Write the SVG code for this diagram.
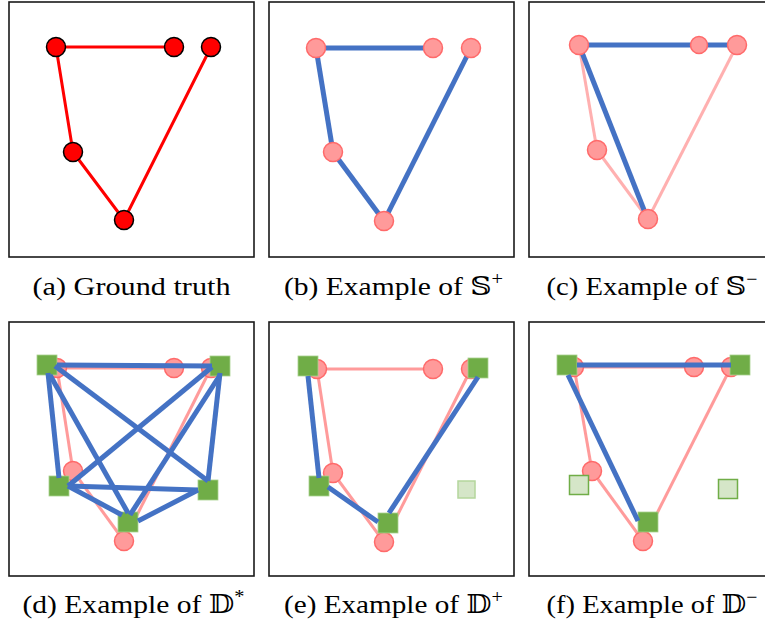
<svg xmlns="http://www.w3.org/2000/svg" width="765" height="626" viewBox="0 0 765 626">
<style>
.frame{fill:#fff;stroke:#1a1a1a;stroke-width:1.6}
.gt-edge{stroke:#ff0000;stroke-width:3;fill:none;stroke-linecap:round}
.gt-node{fill:#ff0000;stroke:#000;stroke-width:1.5}
.blue{stroke:#4472c4;stroke-width:5;fill:none}
.pink-c{stroke:#ffb0b0;stroke-width:3;fill:none}
.pink{stroke:#ff9b9b;stroke-width:3;fill:none}
.pnode{fill:#ff9a9a;stroke:#ff6a6a;stroke-width:1.5}
.sq{fill:#70ad47;stroke:#a9d18e;stroke-width:0.8}
.fsq-e{fill:#d5e6c8;stroke:#b4d69c;stroke-width:1.5}
.fsq-f{fill:#d5e6c8;stroke:#70ad47;stroke-width:1.5}
.cap{font-family:"Liberation Serif","DejaVu Serif","DejaVu Sans",serif;font-size:26px;fill:#000;text-anchor:middle}
.sup{font-size:18px}
</style>

<!-- frames -->
<g id="frames">
<rect class="frame" x="9" y="2" width="245" height="255"/>
<rect class="frame" x="269" y="2" width="245" height="255"/>
<rect class="frame" x="529" y="2" width="250" height="255"/>
<rect class="frame" x="9" y="322" width="245" height="254"/>
<rect class="frame" x="269" y="322" width="245" height="254"/>
<rect class="frame" x="529" y="322" width="250" height="254"/>
</g>

<!-- (a) ground truth -->
<g id="connectors-a">
<line class="gt-edge" x1="56" y1="47" x2="174" y2="47"/>
<line class="gt-edge" x1="56" y1="47" x2="73" y2="152"/>
<line class="gt-edge" x1="73" y1="152" x2="124" y2="220"/>
<line class="gt-edge" x1="124" y1="220" x2="211" y2="47"/>
</g>
<g id="a-n1"><circle class="gt-node" cx="56" cy="47" r="9.5"/></g>
<g id="a-n2"><circle class="gt-node" cx="174" cy="47" r="9.5"/></g>
<g id="a-n3"><circle class="gt-node" cx="211" cy="47" r="9.5"/></g>
<g id="a-n4"><circle class="gt-node" cx="73" cy="152" r="9.5"/></g>
<g id="a-n5"><circle class="gt-node" cx="124" cy="220" r="9.5"/></g>

<!-- (b) -->
<g id="connectors-b">
<line class="blue" x1="316" y1="48" x2="433" y2="48"/>
<line class="blue" x1="316" y1="48" x2="333" y2="152"/>
<line class="blue" x1="333" y1="152" x2="384" y2="221"/>
<line class="blue" x1="384" y1="221" x2="471" y2="48"/>
</g>
<g id="b-n1"><circle class="pnode" cx="316" cy="48" r="9.5"/></g>
<g id="b-n2"><circle class="pnode" cx="433" cy="48" r="9.5"/></g>
<g id="b-n3"><circle class="pnode" cx="471" cy="48" r="9.5"/></g>
<g id="b-n4"><circle class="pnode" cx="333" cy="152" r="9.5"/></g>
<g id="b-n5"><circle class="pnode" cx="384" cy="221" r="9.5"/></g>

<!-- (c) -->
<g id="connectors-c">
<line class="pink-c" x1="579" y1="45" x2="699" y2="45"/>
<line class="pink-c" x1="579" y1="45" x2="597" y2="150"/>
<line class="pink-c" x1="597" y1="150" x2="648" y2="219"/>
<line class="pink-c" x1="648" y1="219" x2="737" y2="45"/>
<line class="blue" x1="579" y1="45" x2="737" y2="45"/>
<line class="blue" x1="579" y1="45" x2="646" y2="215"/>
</g>
<g id="c-n1"><circle class="pnode" cx="579" cy="45" r="9.5"/></g>
<g id="c-n2"><circle class="pnode" cx="699" cy="45" r="8.5"/></g>
<g id="c-n3"><circle class="pnode" cx="737" cy="45" r="9.5"/></g>
<g id="c-n4"><circle class="pnode" cx="597" cy="150" r="9.5"/></g>
<g id="c-n5"><circle class="pnode" cx="648" cy="219" r="9.5"/></g>

<!-- (d) -->
<g id="connectors-d-truth">
<line class="pink" x1="57" y1="368" x2="174" y2="368"/>
<line class="pink" x1="57" y1="368" x2="73" y2="471"/>
<line class="pink" x1="73" y1="471" x2="124" y2="541"/>
<line class="pink" x1="124" y1="541" x2="211" y2="368"/>
</g>
<g id="d-n1"><circle class="pnode" cx="57" cy="368" r="9.5"/></g>
<g id="d-n2"><circle class="pnode" cx="174" cy="368" r="9.5"/></g>
<g id="d-n3"><circle class="pnode" cx="211" cy="368" r="9.5"/></g>
<g id="d-n4"><circle class="pnode" cx="73" cy="471" r="9.5"/></g>
<g id="d-n5"><circle class="pnode" cx="124" cy="541" r="9.5"/></g>
<g id="d-s1"><rect class="sq" x="37" y="355" width="20" height="20"/></g>
<g id="d-s2"><rect class="sq" x="210" y="356" width="20" height="20"/></g>
<g id="d-s3"><rect class="sq" x="49" y="476" width="20" height="20"/></g>
<g id="d-s4"><rect class="sq" x="198" y="480" width="20" height="20"/></g>
<g id="d-s5"><rect class="sq" x="118" y="512" width="20" height="20"/></g>
<g id="connectors-d">
<line class="blue" x1="57" y1="365" x2="212" y2="366"/>
<line class="blue" x1="48" y1="373" x2="59" y2="478"/>
<line class="blue" x1="55" y1="366" x2="208" y2="481"/>
<line class="blue" x1="50" y1="375" x2="128" y2="513"/>
<line class="blue" x1="212" y1="367" x2="68" y2="486"/>
<line class="blue" x1="220" y1="375" x2="130" y2="515"/>
<line class="blue" x1="220" y1="373" x2="208" y2="481"/>
<line class="blue" x1="68" y1="486" x2="198" y2="490"/>
<line class="blue" x1="68" y1="486" x2="122" y2="515"/>
<line class="blue" x1="138" y1="521" x2="198" y2="490"/>
</g>

<!-- (e) -->
<g id="connectors-e-truth">
<line class="pink" x1="317" y1="369" x2="433" y2="369"/>
<line class="pink" x1="317" y1="369" x2="333" y2="473"/>
<line class="pink" x1="333" y1="473" x2="384" y2="542"/>
<line class="pink" x1="384" y1="542" x2="471" y2="369"/>
</g>
<g id="e-n1"><circle class="pnode" cx="317" cy="369" r="9.5"/></g>
<g id="e-n2"><circle class="pnode" cx="433" cy="369" r="9.5"/></g>
<g id="e-n3"><circle class="pnode" cx="471" cy="369" r="9.5"/></g>
<g id="e-n4"><circle class="pnode" cx="333" cy="473" r="9.5"/></g>
<g id="e-n5"><circle class="pnode" cx="384" cy="542" r="9.5"/></g>
<g id="e-s1"><rect class="sq" x="298" y="356" width="20" height="20"/></g>
<g id="e-s2"><rect class="sq" x="468" y="358" width="20" height="20"/></g>
<g id="e-s3"><rect class="sq" x="309" y="476" width="20" height="20"/></g>
<g id="e-s4"><rect class="sq" x="378" y="513" width="20" height="20"/></g>
<g id="e-s5"><rect class="fsq-e" x="458" y="481" width="17" height="17"/></g>
<g id="connectors-e">
<line class="blue" x1="308" y1="376" x2="319" y2="478"/>
<line class="blue" x1="328" y1="487" x2="378" y2="522"/>
<line class="blue" x1="478" y1="377" x2="389" y2="513"/>
</g>

<!-- (f) -->
<g id="connectors-f-truth">
<line class="pink" x1="574" y1="367" x2="694" y2="367"/>
<line class="pink" x1="574" y1="367" x2="592" y2="471"/>
<line class="pink" x1="592" y1="471" x2="643" y2="541"/>
<line class="pink" x1="643" y1="541" x2="731" y2="367"/>
</g>
<g id="f-n1"><circle class="pnode" cx="574" cy="367" r="9.5"/></g>
<g id="f-n2"><circle class="pnode" cx="694" cy="367" r="9.5"/></g>
<g id="f-n3"><circle class="pnode" cx="731" cy="367" r="9.5"/></g>
<g id="f-n4"><circle class="pnode" cx="592" cy="471" r="9.5"/></g>
<g id="f-n5"><circle class="pnode" cx="643" cy="541" r="9.5"/></g>
<g id="f-s1"><rect class="sq" x="557" y="355" width="20" height="20"/></g>
<g id="f-s2"><rect class="sq" x="730" y="355" width="20" height="20"/></g>
<g id="f-s3"><rect class="fsq-f" x="569.5" y="475.5" width="19" height="19"/></g>
<g id="f-s4"><rect class="fsq-f" x="718.5" y="479.5" width="19" height="19"/></g>
<g id="f-s5"><rect class="sq" x="638" y="512" width="20" height="20"/></g>
<g id="connectors-f">
<line class="blue" x1="577" y1="365" x2="731" y2="365"/>
<line class="blue" x1="568" y1="375" x2="638" y2="521"/>
</g>

<!-- captions -->
<g id="captions">
<text class="cap" x="131.5" y="295" textLength="198" lengthAdjust="spacingAndGlyphs">(a) Ground truth</text>
<text class="cap" x="393.5" y="295" textLength="219" lengthAdjust="spacingAndGlyphs">(b) Example of 𝕊<tspan class="sup" dy="-10">+</tspan></text>
<text class="cap" x="652" y="295" textLength="211" lengthAdjust="spacingAndGlyphs">(c) Example of 𝕊<tspan class="sup" dy="-10">−</tspan></text>
<text class="cap" x="133.5" y="613" textLength="222" lengthAdjust="spacingAndGlyphs">(d) Example of 𝔻<tspan class="sup" dy="-10">*</tspan></text>
<text class="cap" x="393.5" y="613" textLength="219" lengthAdjust="spacingAndGlyphs">(e) Example of 𝔻<tspan class="sup" dy="-10">+</tspan></text>
<text class="cap" x="652" y="613" textLength="211" lengthAdjust="spacingAndGlyphs">(f) Example of 𝔻<tspan class="sup" dy="-10">−</tspan></text>
</g>
</svg>
